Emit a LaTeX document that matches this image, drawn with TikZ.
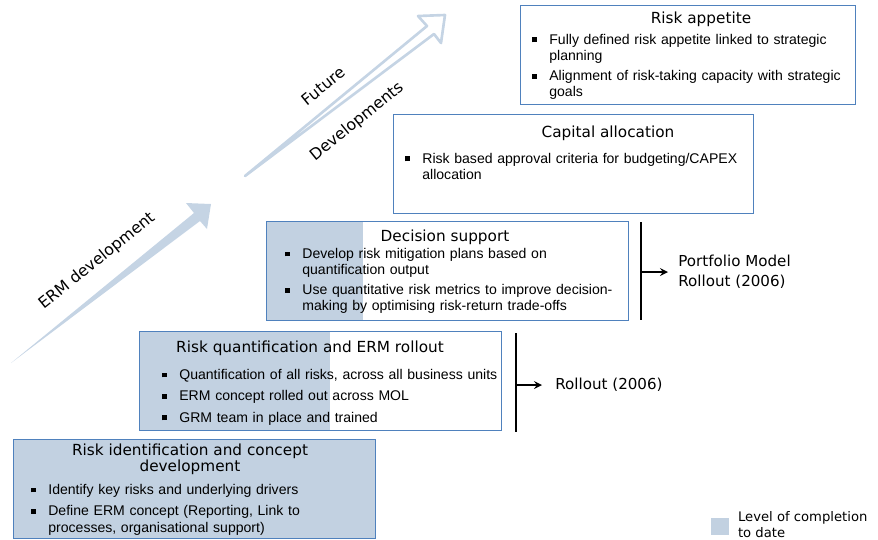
\documentclass[tikz,border=0pt]{standalone}
\usepackage{fontspec}
\setmainfont{Liberation Sans}
\newfontfamily\widefont{DejaVu Sans}
\usepackage{tikz}
\usetikzlibrary{positioning}
\usetikzlibrary{arrows}
\tikzset{>=stealth}
\definecolor{arrowblue}{RGB}{197,212,228}
\definecolor{doneblue}{RGB}{194,209,225}
\definecolor{edgeblue}{RGB}{79,129,189}
\newcommand\itm[1]{\par\noindent\makebox[0.34cm][l]{\rule[1.2pt]{2.8pt}{2.8pt}}%
  \parbox[t]{\dimexpr\hsize-0.34cm\relax}{\raggedright\hyphenpenalty=10000\relax #1}\par}
\newcommand\itmgap{\vspace{3pt}}

\begin{document}
\begin{tikzpicture}[x=0.02cm, y=-0.02cm,
  stage/.style={draw=edgeblue, line width=0.8pt, inner sep=0pt, anchor=north west, minimum height=1.98cm, minimum width=#1},
  done/.style={path picture={\fill[doneblue] (path picture bounding box.north west) rectangle ([xshift=#1]path picture bounding box.south west);}},
  heading/.style={font=\widefont\fontsize{8.7}{9.1}\selectfont, align=center, inner sep=0pt},
  points/.style={font=\fontsize{8}{9.2}\selectfont, text width=#1, anchor=north west, inner sep=0pt},
  milestone/.style={font=\widefont\fontsize{8.6}{11.3}\selectfont, align=left, anchor=west, inner sep=0pt},
  slant/.style={font=\widefont\fontsize{9}{10}\selectfont, rotate=39, inner sep=0pt}]
\useasboundingbox (0,0) rectangle (878,539);

% development arrows
\fill[arrowblue] (11,363) -- (194,213) -- (186,203) -- (211,204) -- (207,229) -- (200,221) -- cycle;
\draw[arrowblue, line width=1.5pt, line join=round, line cap=round] (245,176) -- (427,26) -- (418,16) -- (445,15) -- (441,43) -- (434,34) -- cycle;
\node[slant] (ermText) at (97,261) {ERM development};
\node[slant] (futureText) at (323,86) {Future};
\node[slant] (devText) at (357,122) {Developments};

% stages
\node[stage=6.7cm, fill=white] (appetite) at (520,5) {};
\node[stage=7.2cm, fill=white] (capital) at (393,114) {};
\node[stage=7.24cm, fill=white, done=1.92cm] (decision) at (266,221) {};
\node[stage=7.24cm, fill=white, done=3.8cm] (quant) at (139,331) {};
\node[stage=7.24cm, fill=doneblue] (ident) at (13,439) {};

\node[heading] (appetiteTitle) at (701,19) {Risk appetite};
\node[heading] (capitalTitle) at (608,133) {Capital allocation};
\node[heading] (decisionTitle) at (445,237) {Decision support};
\node[heading] (quantTitle) at (310,348) {Risk quantification and ERM rollout};
\node[heading] (identTitle) at (190,459) {Risk identification and concept\\development};

\node[points=6.24cm] (appetiteText) at (532,28) {\itm{Fully defined risk appetite linked to strategic planning}
  \itmgap\itm{Alignment of risk-taking capacity with strategic goals}};
\node[points=6.76cm] (capitalText) at (405,147) {\itm{Risk based approval criteria for budgeting/CAPEX allocation}};
\node[points=6.85cm] (decisionText) at (285,242) {\itm{Develop risk mitigation plans based on quantification output}
  \itmgap\itm{Use quantitative risk metrics to improve decision-\\making by optimising risk-return trade-offs}};
\node[points=6.9cm] (quantText) at (162,363) {\itm{Quantification of all risks, across all business units}
  \itmgap\itm{ERM concept rolled out across MOL}
  \itmgap\itm{GRM team in place and trained}};
\node[points=5.8cm] (identText) at (31,478) {\itm{Identify key risks and underlying drivers}
  \itmgap\itm{Define ERM concept (Reporting, Link to processes, organisational support)}};

% rollouts
\coordinate (pfTop) at (641,222);
\coordinate (pfBottom) at (641,320);
\coordinate (pfJoin) at (641,272);
\node[milestone] (pfLabel) at (678,272) {Portfolio Model\\Rollout (2006)};
\draw[line width=1pt] (pfTop) -- (pfBottom);
\draw[->, line width=1pt, shorten >=0.2cm] (pfJoin) -- (pfLabel.west);

\coordinate (roTop) at (516,333);
\coordinate (roBottom) at (516,432);
\coordinate (roJoin) at (516,385);
\node[milestone] (roLabel) at (555,385) {Rollout (2006)};
\draw[line width=1pt] (roTop) -- (roBottom);
\draw[->, line width=1pt, shorten >=0.26cm] (roJoin) -- (roLabel.west);

% legend
\node[fill=doneblue, minimum width=0.36cm, minimum height=0.34cm, inner sep=0pt, anchor=north west] (legendBox) at (711,518) {};
\node[right=0.16cm of legendBox, yshift=0.05cm, font=\widefont\fontsize{7.5}{9}\selectfont, align=left, inner sep=0pt] (legendText) {Level of completion\\to date};
\end{tikzpicture}
\end{document}
